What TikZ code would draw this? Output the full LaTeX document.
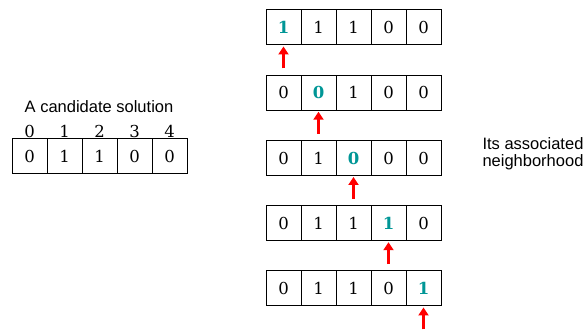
\documentclass[tikz,border=0pt]{standalone}
\usepackage{fontspec}
\setmainfont{DejaVu Serif}
\newfontfamily\labelfont{Liberation Sans}
\usetikzlibrary{arrows.meta, positioning}
\definecolor{flipteal}{RGB}{0,150,150}

\begin{document}
\begin{tikzpicture}[
  x=1pt, y=-1pt,
  bit/.style={draw, line width=1pt, minimum size=35pt, inner sep=0pt, font=\fontsize{16.5}{16.5}\selectfont},
  flipped/.style={text=flipteal, font=\fontsize{16.5}{16.5}\selectfont\bfseries},
  idx/.style={inner sep=0pt, font=\fontsize{16.5}{16.5}\selectfont},
  caption/.style={font=\labelfont\fontsize{16.5}{17}\selectfont, align=center},
  pointer/.style={draw=red, line width=3pt, -{Triangle[width=10pt,length=8pt]}, shorten >=1pt}
]
\useasboundingbox (0,0) rectangle (587,331);

% Candidate solution on the left
\node[caption] (title) at (99,107) {A candidate solution};
\foreach \v [count=\i from 0] in {0,1,1,0,0} {
  \node[bit] (c\i) at (29.5+35*\i,156.5) {\v};
  \node[idx] (n\i) at (29.5+35*\i,131) {\i};
}

% Neighborhood: row r flips bit r
\foreach \r in {0,...,4} {
  \foreach \b [count=\c from 0] in {0,1,1,0,0} {
    \ifnum\c=\r
      \pgfmathtruncatemacro\v{1-\b}
      \node[bit, flipped] (r\r-\c) at (283.5+35*\c,27.5+65.25*\r) {\v};
    \else
      \node[bit] (r\r-\c) at (283.5+35*\c,27.5+65.25*\r) {\b};
    \fi
  }
  % red pointer under the flipped bit
  \coordinate (t\r) at ([yshift=-23pt]r\r-\r.south);
  \draw[pointer] (t\r) -- (r\r-\r);
}

\node[caption] (hood) at (533,154) {Its associated\\neighborhood};

\end{tikzpicture}
\end{document}
